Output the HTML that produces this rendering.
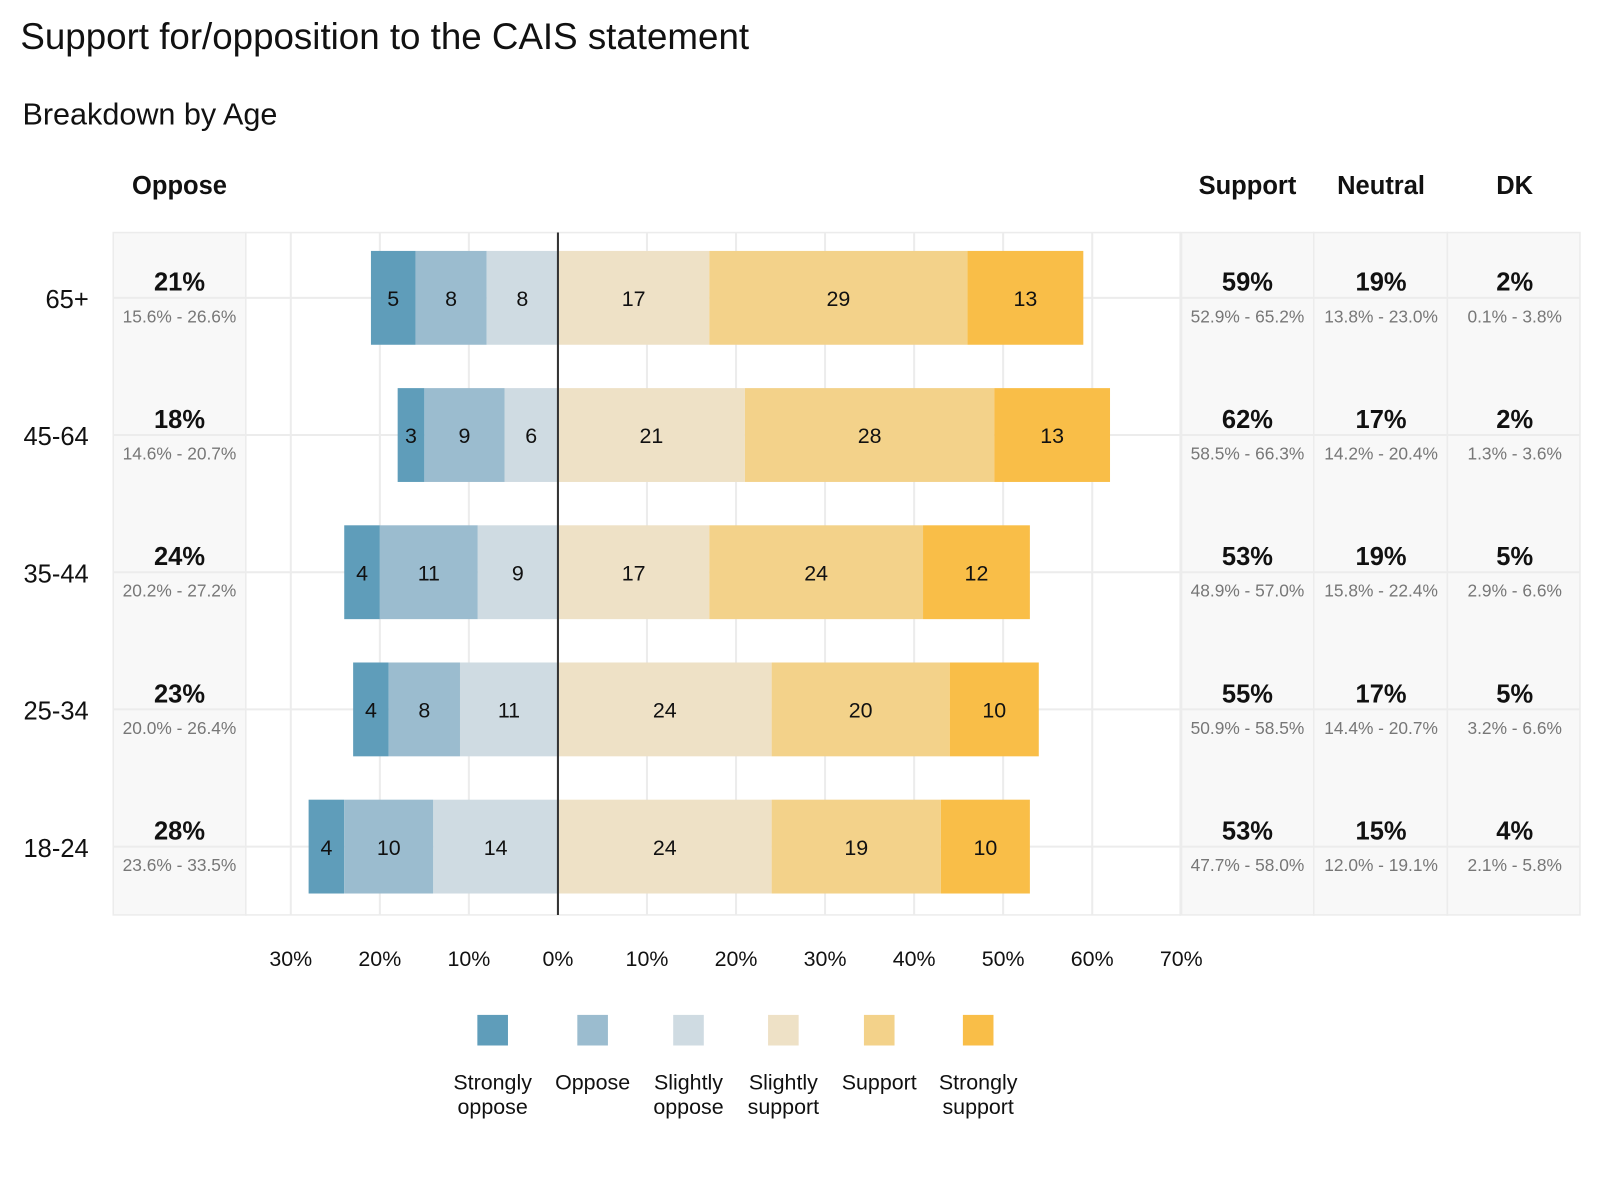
<!DOCTYPE html>
<html><head><meta charset="utf-8"><style>
html,body{margin:0;padding:0;background:#fff;}
svg{display:block;font-family:"Liberation Sans",sans-serif;}
</style></head><body>
<svg id="chart" width="1600" height="1200" viewBox="0 0 1600 1200">
<g transform="scale(1.02)">
<text x="20" y="48" font-size="36" fill="#111">Support for/opposition to the CAIS statement</text>
<text x="22" y="122" font-size="30" fill="#111">Breakdown by Age</text>
<g id="g"></g>
</g>
</svg>
<script>
const groups = ["65+","45-64","35-44","25-34","18-24"];
const strongOppose = [5,3,4,4,4];
const oppose = [8,9,11,8,10];
const slightOppose = [8,6,9,11,14];
const slightSupport = [17,21,17,24,24];
const support = [29,28,24,20,19];
const strongSupport = [13,13,12,10,10];
const opposeTot = ["21%","18%","24%","23%","28%"];
const opposeCI = ["15.6% - 26.6%","14.6% - 20.7%","20.2% - 27.2%","20.0% - 26.4%","23.6% - 33.5%"];
const supportTot = ["59%","62%","53%","55%","53%"];
const supportCI = ["52.9% - 65.2%","58.5% - 66.3%","48.9% - 57.0%","50.9% - 58.5%","47.7% - 58.0%"];
const neutralTot = ["19%","17%","19%","17%","15%"];
const neutralCI = ["13.8% - 23.0%","14.2% - 20.4%","15.8% - 22.4%","14.4% - 20.7%","12.0% - 19.1%"];
const dkTot = ["2%","2%","5%","5%","4%"];
const dkCI = ["0.1% - 3.8%","1.3% - 3.6%","2.9% - 6.6%","3.2% - 6.6%","2.1% - 5.8%"];
const ticks = [-30,-20,-10,0,10,20,30,40,50,60,70];
const legendLabels = [["Strongly","oppose"],["Oppose"],["Slightly","oppose"],["Slightly","support"],["Support"],["Strongly","support"]];
const colors = ["#5f9dba","#9bbccf","#cfdbe2","#eee1c6","#f3d28a","#f9be48"];

const NS="http://www.w3.org/2000/svg";
const g=document.getElementById('g');
function el(t,a,txt){const e=document.createElementNS(NS,t);for(const k in a)e.setAttribute(k,a[k]);if(txt!==undefined)e.textContent=txt;g.appendChild(e);return e;}
const x0=547, pxPer=8.73;
const X=v=>x0+v*pxPer;
const rowY=i=>292+i*134.5;
const barH=92, topY=228, bottomY=897;

const panels=[[111,241,"oppose-panel"],[1157,1288,"support-panel"],[1288,1419,"neutral-panel"],[1419,1549,"dk-panel"]];
panels.forEach(p=>{
 const r=el('rect',{x:p[0],y:topY,width:p[1]-p[0],height:bottomY-topY,fill:"#f8f8f8",stroke:"#ececec","stroke-width":1.5});
 
 
});
const pr=el('rect',{x:241,y:topY,width:916,height:bottomY-topY,fill:"#fff",stroke:"#ececec","stroke-width":1.5});


ticks.forEach(t=>{
 const l=el('line',{x1:X(t),x2:X(t),y1:topY,y2:bottomY,stroke:"#ececec","stroke-width":2});
 
 
 const tx=el('text',{x:X(t),y:947,"font-size":21,"text-anchor":"middle",fill:"#111"},Math.abs(t)+"%");
 
 
});
groups.forEach((gr,i)=>{
 const y=rowY(i);
 const l=el('line',{x1:111,x2:1549,y1:y,y2:y,stroke:"#ececec","stroke-width":2});
 
 
});
[["Oppose",176],["Support",1223],["Neutral",1354],["DK",1485]].forEach(h=>{
 const t=el('text',{x:h[1],y:190,"font-size":25,"font-weight":"bold","text-anchor":"middle",fill:"#111"},h[0]);
 
 
});
groups.forEach((gr,i)=>{
 const y=rowY(i);
 const lab=el('text',{x:87,y:y+10,"font-size":25,"text-anchor":"end",fill:"#111"},gr);
 
 
 const neg=[strongOppose[i],oppose[i],slightOppose[i]];
 const pos=[slightSupport[i],support[i],strongSupport[i]];
 let left=-(neg[0]+neg[1]+neg[2]);
 neg.forEach((v,k)=>{
  const r=el('rect',{x:X(left),y:y-barH/2,width:v*pxPer,height:barH,fill:colors[k]});
  
  
  const t=el('text',{x:X(left+v/2),y:y+8,"font-size":21,"text-anchor":"middle",fill:"#111"},v);
  
  
  left+=v;
 });
 let s=0;
 pos.forEach((v,k)=>{
  const r=el('rect',{x:X(s),y:y-barH/2,width:v*pxPer,height:barH,fill:colors[k+3]});
  
  
  const t=el('text',{x:X(s+v/2),y:y+8,"font-size":21,"text-anchor":"middle",fill:"#111"},v);
  
  
  s+=v;
 });
 [[176,opposeTot,opposeCI],[1223,supportTot,supportCI],[1354,neutralTot,neutralCI],[1485,dkTot,dkCI]].forEach(c=>{
  const a=el('text',{x:c[0],y:y-7,"font-size":25,"font-weight":"bold","text-anchor":"middle",fill:"#111"},c[1][i]);
  
  
  const b=el('text',{x:c[0],y:y+24,"font-size":17,"text-anchor":"middle",fill:"#777"},c[2][i]);
  
  
 });
});
const zl=el('line',{x1:x0,x2:x0,y1:topY,y2:bottomY,stroke:"#333","stroke-width":2});


const lx=[483,581,675,768,862,959];
legendLabels.forEach((lb,k)=>{
 const r=el('rect',{x:lx[k]-15,y:995,width:30,height:30,fill:colors[k]});
 
 
 lb.forEach((w,j)=>{
  const t=el('text',{x:lx[k],y:1068+j*24,"font-size":21,"text-anchor":"middle",fill:"#111"},w);
  
  
 });
});
</script>
</body></html>
